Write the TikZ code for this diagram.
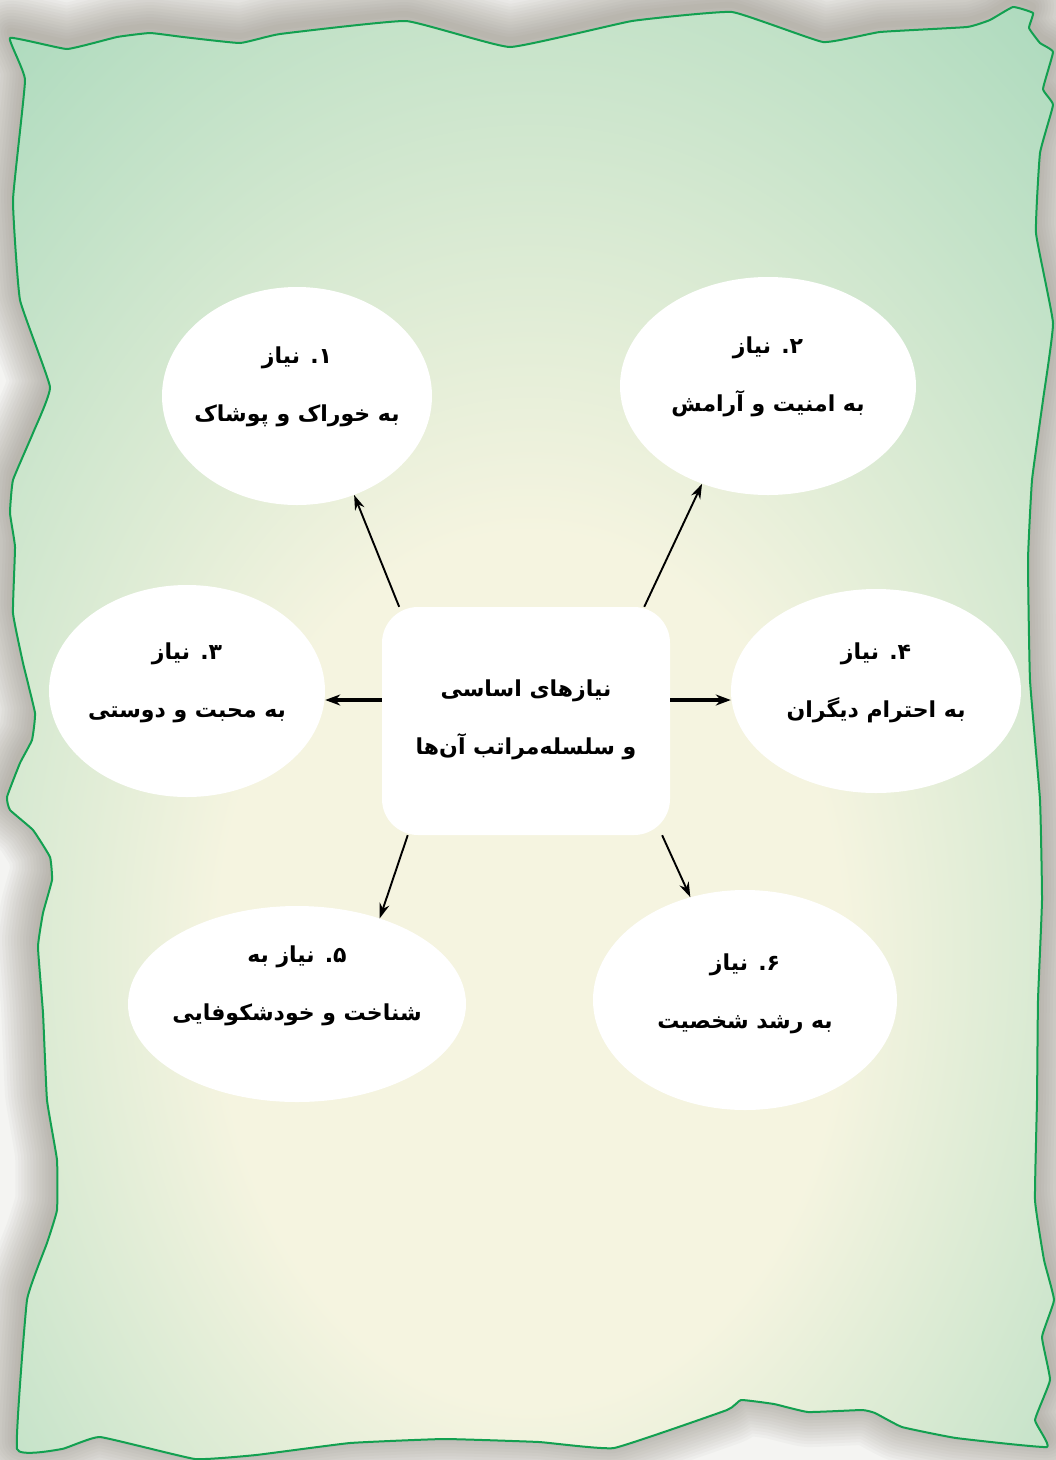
\documentclass[tikz,border=0pt]{standalone}
\usepackage{fontspec}
\newfontfamily\arabicfont[Script=Arabic]{DejaVu Sans}
\TeXXeTstate=1
\usetikzlibrary{arrows.meta,shapes.geometric,calc}
\definecolor{mint}{HTML}{AAD9BC}
\definecolor{cream}{HTML}{F5F4E0}
\definecolor{edgec}{HTML}{12A050}
\definecolor{shadowc}{HTML}{7E7A6C}
\definecolor{bgc}{HTML}{F4F4F2}
\pgfdeclareradialshading{paperfill}{\pgfpoint{0bp}{-10bp}}{color(0bp)=(cream); color(15bp)=(cream); color(40bp)=(mint); color(80bp)=(mint)}
\newcommand{\ar}[1]{{\arabicfont\bfseries\beginR #1\endR}}
\def\papershape{plot[smooth cycle, tension=0.2] coordinates {
(10,38) (67,49) (117,37) (150,33) (183,37) (240,43) (280,34) (406,21) (510,47) (632,21) (732,12) (823,42) (880,32) (967,27) (990,20) (1013,7) (1033,13) (1029,28) (1040,43) (1053,52) (1043,89) (1053,105) (1040,153) (1036,233) (1053,323) (1043,400) (1032,480) (1028,560) (1030,680) (1040,800) (1042,900) (1038,1000) (1037,1100) (1035,1200) (1044,1260) (1054,1300) (1042,1337) (1050,1380) (1035,1420) (1047,1447) (956,1438) (902,1427) (875,1413) (862,1410) (808,1412) (774,1404) (741,1400) (727,1410) (614,1448) (539,1442) (444,1439) (350,1443) (256,1455) (195,1459) (100,1437) (62,1449) (17,1449) (27,1300) (47,1243) (57,1210) (57,1160) (47,1100) (43,1013) (38,947) (43,913) (52,880) (50,857) (33,830) (10,810) (7,797) (20,763) (32,740) (35,713) (23,663) (13,613) (15,547) (10,513) (13,480) (33,433) (50,387) (20,300) (13,200) (25,80)
}}
\begin{document}
\begin{tikzpicture}[x=1pt,y=-1pt,
  bubble/.style={ellipse,fill=white,draw=none,inner sep=0pt},
  hub/.style={rectangle,rounded corners=36pt,fill=white,draw=none,minimum width=288pt,minimum height=228pt,inner sep=0pt},
  label/.style={align=center,font=\fontsize{22}{58}\selectfont,text=black},
  arr/.style={-{Stealth[length=15pt,width=10pt]},line width=1.9pt,black},
  harr/.style={-{Stealth[length=15pt,width=11pt]},line width=3.4pt,black}]
\useasboundingbox (0,0) rectangle (1056,1460);
\fill[bgc] (0,0) rectangle (1056,1460);
% shadow halo
\foreach \w in {84,78,...,6}{
  \draw[line width=\w pt, draw=shadowc, opacity=0.045, line join=round, yshift=7pt] \papershape;
}
\shade[shading=paperfill] \papershape;
\draw[edgec, line width=2pt, line join=round] \papershape;

% nodes
\node[hub] (c) at (526,721) {};
\node[bubble,minimum width=270pt,minimum height=218pt] (tl) at (297,396) {};
\node[bubble,minimum width=296pt,minimum height=218pt] (tr) at (768,386) {};
\node[bubble,minimum width=276pt,minimum height=212pt] (ml) at (187,691) {};
\node[bubble,minimum width=290pt,minimum height=204pt] (mr) at (876,691) {};
\node[bubble,minimum width=338pt,minimum height=196pt] (bl) at (297,1004) {};
\node[bubble,minimum width=304pt,minimum height=220pt] (br) at (745,1000) {};

% texts
\node[label] (ct) at (526,720) {\ar{نیازهای اساسی}\\\ar{و سلسله‌مراتب آن‌ها}};
\node[label] (tlt) at (297,387) {\ar{۱. نیاز}\\\ar{به خوراک و پوشاک}};
\node[label] (trt) at (768,377) {\ar{۲. نیاز}\\\ar{به امنیت و آرامش}};
\node[label] (mlt) at (187,683) {\ar{۳. نیاز}\\\ar{به محبت و دوستی}};
\node[label] (mrt) at (876,683) {\ar{۴. نیاز}\\\ar{به احترام دیگران}};
\node[label] (blt) at (297,986) {\ar{۵. نیاز به}\\\ar{شناخت و خودشکوفایی}};
\node[label] (brt) at (745,994) {\ar{۶. نیاز}\\\ar{به رشد شخصیت}};

% connectors
\draw[arr] (c.138) -- (tl.-60);
\draw[arr] (c.44) -- (tr.-124);
\draw[harr] ([yshift=21pt]c.west) -- ([yshift=-9pt]ml.east);
\draw[harr] ([yshift=21pt]c.east) -- ([yshift=-9pt]mr.west);
\draw[arr] (c.224.5) -- (bl.46);
\draw[arr] (c.-40.8) -- (br.118.6);
\end{tikzpicture}
\end{document}
